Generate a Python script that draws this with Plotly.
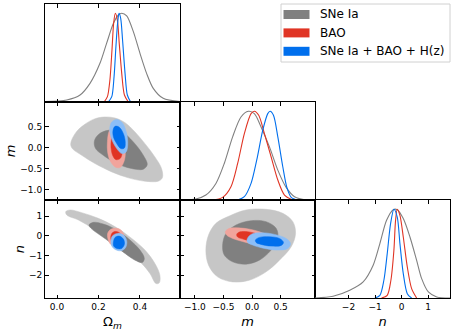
import plotly.graph_objects as go

# ---- 1D marginals (peak normalised to 1) ----
om_sne_x = [-0.058, 0.047, 0.111, 0.159, 0.207, 0.239, 0.272, 0.296, 0.312, 0.336, 0.368, 0.400, 0.432, 0.464, 0.512, 0.593]
om_sne_p = [0.004, 0.023, 0.079, 0.210, 0.436, 0.661, 0.887, 0.981, 1.000, 0.970, 0.793, 0.549, 0.323, 0.154, 0.041, 0.004]
om_bao_x = [0.227, 0.243, 0.255, 0.265, 0.273, 0.281, 0.291, 0.300, 0.312, 0.325, 0.344]
om_bao_p = [0.0, 0.060, 0.248, 0.586, 0.887, 1.000, 0.924, 0.661, 0.323, 0.079, 0.0]
om_all_x = [0.247, 0.264, 0.275, 0.284, 0.292, 0.299, 0.307, 0.316, 0.328, 0.339, 0.355]
om_all_p = [0.0, 0.060, 0.286, 0.624, 0.887, 1.000, 0.943, 0.699, 0.323, 0.079, 0.0]

m_sne_x = [-1.246, -0.983, -0.808, -0.632, -0.486, -0.340, -0.194, -0.065, 0.040, 0.157, 0.304, 0.450, 0.596, 0.742, 0.947, 1.105]
m_sne_p = [0.0, 0.011, 0.056, 0.187, 0.412, 0.712, 0.936, 1.000, 0.974, 0.824, 0.599, 0.337, 0.142, 0.037, 0.0, 0.0]
m_bao_x = [-0.691, -0.515, -0.369, -0.252, -0.135, -0.018, 0.040, 0.116, 0.216, 0.333, 0.450, 0.567, 0.713]
m_bao_p = [0.0, 0.030, 0.150, 0.412, 0.749, 0.974, 1.000, 0.955, 0.749, 0.487, 0.225, 0.056, 0.0]
m_all_x = [-0.252, -0.135, -0.018, 0.081, 0.187, 0.274, 0.315, 0.374, 0.450, 0.537, 0.608, 0.684, 0.801]
m_all_p = [0.0, 0.037, 0.187, 0.449, 0.787, 0.974, 1.000, 0.955, 0.712, 0.375, 0.142, 0.030, 0.0]

n_sne_x = [-3.272, -2.580, -1.951, -1.448, -1.071, -0.819, -0.567, -0.316, -0.165, 0.062, 0.313, 0.565, 0.754, 1.005, 1.320, 1.823]
n_sne_p = [0.0, 0.019, 0.087, 0.181, 0.369, 0.613, 0.876, 0.996, 0.996, 0.895, 0.688, 0.425, 0.218, 0.068, 0.012, 0.0]
n_bao_x = [-0.756, -0.542, -0.404, -0.291, -0.228, -0.165, -0.064, 0.062, 0.213, 0.376, 0.565]
n_bao_p = [0.0, 0.030, 0.200, 0.538, 0.876, 1.000, 0.932, 0.688, 0.350, 0.106, 0.0]
n_all_x = [-1.008, -0.819, -0.668, -0.542, -0.416, -0.291, -0.165, -0.064, 0.062, 0.213, 0.376]
n_all_p = [0.0, 0.030, 0.200, 0.500, 0.838, 1.000, 0.913, 0.613, 0.275, 0.049, 0.0]

# ---- 2D contours: (x, y) vertices of the 68% (inner) and 95% (outer) regions ----
om_m_sne_95 = [(0.066, 0.096), (0.087, 0.334), (0.127, 0.532), (0.175, 0.675), (0.223, 0.731), (0.280, 0.707),
               (0.328, 0.596), (0.376, 0.374), (0.424, 0.096), (0.472, -0.221), (0.504, -0.499), (0.508, -0.721),
               (0.488, -0.801), (0.424, -0.801), (0.344, -0.721), (0.264, -0.579), (0.183, -0.380), (0.119, -0.182),
               (0.074, -0.023)]
om_m_sne_68 = [(0.180, 0.152), (0.199, 0.310), (0.247, 0.414), (0.312, 0.374), (0.368, 0.136), (0.416, -0.182),
               (0.435, -0.404), (0.416, -0.515), (0.360, -0.499), (0.288, -0.380), (0.223, -0.182), (0.186, -0.023)]
om_m_bao_95 = [(0.243, 0.136), (0.251, 0.390), (0.272, 0.532), (0.299, 0.517), (0.320, 0.334), (0.329, 0.017),
               (0.325, -0.301), (0.304, -0.475), (0.280, -0.460), (0.255, -0.301), (0.244, -0.102)]
om_m_bao_68 = [(0.260, 0.096), (0.267, 0.294), (0.283, 0.414), (0.304, 0.358), (0.315, 0.136), (0.315, -0.102),
               (0.304, -0.261), (0.283, -0.285), (0.268, -0.182), (0.262, -0.063)]
om_m_all_95 = [(0.254, 0.453), (0.264, 0.612), (0.288, 0.675), (0.315, 0.596), (0.334, 0.374), (0.341, 0.096),
               (0.333, -0.102), (0.312, -0.142), (0.288, -0.023), (0.264, 0.199)]
om_m_all_68 = [(0.270, 0.414), (0.280, 0.509), (0.299, 0.493), (0.320, 0.334), (0.329, 0.136), (0.325, -0.007),
               (0.308, -0.023), (0.288, 0.096), (0.272, 0.255)]

om_n_sne_95 = [(0.042, 1.220), (0.063, 1.305), (0.119, 1.169), (0.199, 0.882), (0.280, 0.458), (0.360, -0.134),
               (0.424, -0.726), (0.472, -1.403), (0.496, -1.995), (0.493, -2.384), (0.477, -2.418), (0.448, -1.910),
               (0.408, -1.403), (0.344, -0.895), (0.264, -0.387), (0.183, 0.289), (0.103, 0.797), (0.047, 1.051)]
om_n_sne_68 = [(0.154, 0.543), (0.175, 0.679), (0.223, 0.594), (0.288, 0.289), (0.352, -0.218), (0.400, -0.726),
               (0.421, -1.149), (0.411, -1.352), (0.376, -1.234), (0.328, -0.895), (0.264, -0.387), (0.207, 0.036),
               (0.164, 0.374)]
om_n_bao_95 = [(0.243, 0.036), (0.251, 0.255), (0.275, 0.374), (0.304, 0.323), (0.320, 0.120), (0.325, -0.184),
               (0.312, -0.472), (0.283, -0.557), (0.255, -0.387)]
om_n_bao_68 = [(0.259, -0.049), (0.267, 0.154), (0.284, 0.222), (0.304, 0.120), (0.310, -0.134), (0.299, -0.387),
               (0.276, -0.421), (0.262, -0.252)]
om_n_all_95 = [(0.260, -0.252), (0.268, 0.002), (0.292, 0.120), (0.320, 0.036), (0.336, -0.252), (0.331, -0.590),
               (0.308, -0.760), (0.280, -0.692), (0.264, -0.523)]
om_n_all_68 = [(0.272, -0.303), (0.280, -0.083), (0.299, -0.015), (0.320, -0.168), (0.325, -0.421), (0.312, -0.641),
               (0.288, -0.641), (0.273, -0.523)]

m_n_sne_95 = [(-0.808, -0.726), (-0.761, 0.036), (-0.632, 0.628), (-0.398, 1.000), (-0.106, 1.305), (0.245, 1.339),
              (0.537, 1.136), (0.713, 0.712), (0.760, 0.120), (0.684, -0.557), (0.479, -1.234), (0.245, -1.826),
              (-0.047, -2.249), (-0.340, -2.334), (-0.603, -2.080), (-0.761, -1.488)]
m_n_sne_68 = [(-0.515, -0.472), (-0.457, 0.120), (-0.281, 0.543), (-0.018, 0.763), (0.245, 0.712), (0.421, 0.374),
              (0.450, -0.134), (0.333, -0.726), (0.128, -1.234), (-0.106, -1.437), (-0.340, -1.318), (-0.486, -0.980)]
m_n_bao_95 = [(-0.468, 0.205), (-0.398, 0.374), (-0.194, 0.391), (0.070, 0.255), (0.304, -0.015), (0.450, -0.303),
              (0.450, -0.523), (0.333, -0.590), (0.128, -0.506), (-0.106, -0.337), (-0.340, -0.134), (-0.445, 0.036)]
m_n_bao_68 = [(-0.269, 0.070), (-0.223, 0.188), (-0.077, 0.205), (0.099, 0.070), (0.198, -0.134), (0.175, -0.303),
              (0.040, -0.303), (-0.135, -0.184), (-0.252, -0.066)]
m_n_all_95 = [(-0.088, -0.184), (-0.018, 0.070), (0.157, 0.154), (0.391, 0.070), (0.596, -0.134), (0.672, -0.387),
              (0.625, -0.641), (0.450, -0.726), (0.216, -0.641), (0.011, -0.472), (-0.077, -0.337)]
m_n_all_68 = [(0.058, -0.218), (0.128, -0.083), (0.304, -0.049), (0.479, -0.134), (0.549, -0.337), (0.508, -0.489),
              (0.333, -0.523), (0.157, -0.438), (0.070, -0.337)]

labels = ["SNe Ia", "BAO", "SNe Ia + BAO + H(z)"]

LINE = ["#808080", "#E03424", "#006FED"]
DARK = ["#808080", "#E03424", "#006FED"]
LIGHT = ["#C6C6C6", "#F1A49C", "#8CBEF7"]

W, H = 455, 332
COLS = [(45, 180), (180, 315), (315, 450)]
ROWS = [(4, 102), (102, 200), (200, 298)]

OM_RANGE = [-0.058, 0.593]
M_XRANGE = [-1.26, 1.10]
M_YRANGE = [-1.25, 1.09]
N_XRANGE = [-3.26, 1.82]
N_YRANGE = [-3.15, 1.81]
P_RANGE = [0, 1.105]


def xdom(c):
    return [COLS[c][0] / W, COLS[c][1] / W]


def ydom(r):
    return [1 - ROWS[r][1] / H, 1 - ROWS[r][0] / H]


def add_curve(fig, xs, ys, color, ax):
    fig.add_trace(go.Scatter(x=xs, y=ys, mode="lines", line=dict(color=color, width=1.1, shape="spline", smoothing=0.8),
                             xaxis=f"x{ax}", yaxis=f"y{ax}", showlegend=False, hoverinfo="skip"))


def add_region(fig, pts, color, ax):
    xs = [p[0] for p in pts] + [pts[0][0]]
    ys = [p[1] for p in pts] + [pts[0][1]]
    fig.add_trace(go.Scatter(x=xs, y=ys, mode="lines", fill="toself", fillcolor=color,
                             line=dict(color=color, width=0.5, shape="spline", smoothing=1.0),
                             xaxis=f"x{ax}", yaxis=f"y{ax}", showlegend=False, hoverinfo="skip"))


fig = go.Figure()

# diagonal panels
for i, (xs, ys) in enumerate([(om_sne_x, om_sne_p), (om_bao_x, om_bao_p), (om_all_x, om_all_p)]):
    add_curve(fig, xs, ys, LINE[i], 1)
for i, (xs, ys) in enumerate([(m_sne_x, m_sne_p), (m_bao_x, m_bao_p), (m_all_x, m_all_p)]):
    add_curve(fig, xs, ys, LINE[i], 3)
for i, (xs, ys) in enumerate([(n_sne_x, n_sne_p), (n_bao_x, n_bao_p), (n_all_x, n_all_p)]):
    add_curve(fig, xs, ys, LINE[i], 6)

# 2D panels, drawn in order SNe -> BAO -> combined
for ax, sets in [
    (2, [(om_m_sne_95, om_m_sne_68), (om_m_bao_95, om_m_bao_68), (om_m_all_95, om_m_all_68)]),
    (4, [(om_n_sne_95, om_n_sne_68), (om_n_bao_95, om_n_bao_68), (om_n_all_95, om_n_all_68)]),
    (5, [(m_n_sne_95, m_n_sne_68), (m_n_bao_95, m_n_bao_68), (m_n_all_95, m_n_all_68)]),
]:
    for i, (outer, inner) in enumerate(sets):
        add_region(fig, outer, LIGHT[i], ax)
        add_region(fig, inner, DARK[i], ax)

# hand-made legend box (matplotlib style) in the empty upper-right corner
shapes = [dict(type="rect", xref="paper", yref="paper", x0=281 / W, x1=450 / W, y0=1 - 62 / H, y1=1 - 4 / H,
               line=dict(color="#d0d0d0", width=1), fillcolor="white", layer="above")]
annotations = []
for i, name in enumerate(labels):
    yc = 14.5 + 18.4 * i
    shapes.append(dict(type="rect", xref="paper", yref="paper", x0=283.5 / W, x1=309.5 / W,
                       y0=1 - (yc + 4.5) / H, y1=1 - (yc - 4.5) / H, line=dict(width=0),
                       fillcolor=DARK[i], layer="above"))
    annotations.append(dict(text=name, xref="paper", yref="paper", x=318 / W, y=1 - yc / H, xanchor="left",
                            yanchor="middle", showarrow=False,
                            font=dict(family="DejaVu Sans", size=12, color="black")))

tick_font = dict(family="DejaVu Sans", size=9, color="black")
title_font = dict(family="DejaVu Sans", size=13, color="black")
base = dict(showline=True, linecolor="black", linewidth=1, mirror="ticks", ticks="inside", ticklen=3.5,
            tickcolor="black", tickwidth=0.8, showgrid=False, zeroline=False, tickfont=tick_font)
diag_y = dict(showline=True, linecolor="black", linewidth=1, mirror=True, ticks="", showticklabels=False,
              showgrid=False, zeroline=False, range=P_RANGE, fixedrange=True)

om_ticks = dict(tickvals=[0.0, 0.2, 0.4], tickformat=".1f", range=OM_RANGE)
m_ticks = dict(tickvals=[-1.0, -0.5, 0.0, 0.5], tickformat=".1f")
n_ticks = dict(tickvals=[-2, -1, 0, 1], tickformat="d")

fig.update_layout(
    width=W, height=H,
    margin=dict(l=0, r=0, t=0, b=0),
    paper_bgcolor="white", plot_bgcolor="white",
    font=dict(family="DejaVu Sans", color="black"),
    showlegend=False,
    shapes=shapes,
    annotations=annotations,
    # panel 1: Omega_m marginal
    xaxis=dict(**base, **om_ticks, domain=xdom(0), anchor="y", showticklabels=False),
    yaxis=dict(**diag_y, domain=ydom(0), anchor="x"),
    # panel 2: Omega_m vs m
    xaxis2=dict(**base, **om_ticks, domain=xdom(0), anchor="y2", showticklabels=False),
    yaxis2=dict(**base, **m_ticks, range=M_YRANGE, domain=ydom(1), anchor="x2",
                title=dict(text="<i>m</i>", font=title_font, standoff=1)),
    # panel 3: m marginal
    xaxis3=dict(**base, **m_ticks, range=M_XRANGE, domain=xdom(1), anchor="y3", showticklabels=False),
    yaxis3=dict(**diag_y, domain=ydom(1), anchor="x3"),
    # panel 4: Omega_m vs n
    xaxis4=dict(**base, **om_ticks, domain=xdom(0), anchor="y4",
                title=dict(text="Ω<sub><i>m</i></sub>", font=title_font, standoff=6)),
    yaxis4=dict(**base, **n_ticks, range=N_YRANGE, domain=ydom(2), anchor="x4",
                title=dict(text="<i>n</i>", font=title_font, standoff=1)),
    # panel 5: m vs n
    xaxis5=dict(**base, **m_ticks, range=M_XRANGE, domain=xdom(1), anchor="y5",
                title=dict(text="<i>m</i>", font=title_font, standoff=6)),
    yaxis5=dict(**base, **n_ticks, range=N_YRANGE, domain=ydom(2), anchor="x5", showticklabels=False),
    # panel 6: n marginal
    xaxis6=dict(**base, **n_ticks, range=N_XRANGE, domain=xdom(2), anchor="y6",
                title=dict(text="<i>n</i>", font=title_font, standoff=6)),
    yaxis6=dict(**diag_y, domain=ydom(2), anchor="x6"),
)

# the page body has a default 8px margin; drop it so the figure sits at the window origin
fig.write_html("out.html", config={"displayModeBar": False},
               post_script="document.body.style.margin = '0';")
